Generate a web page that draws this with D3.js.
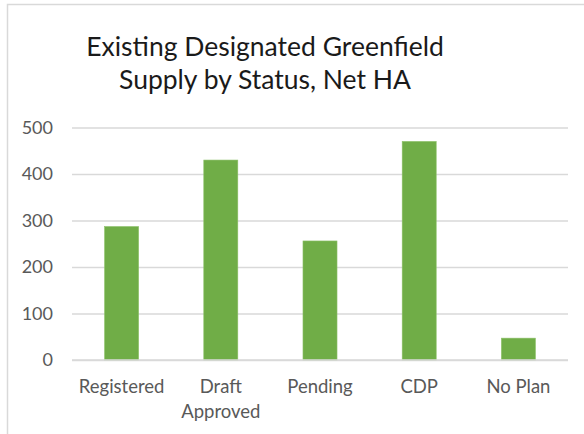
<!DOCTYPE html>
<html><head><meta charset="utf-8">
<script src="https://cdn.jsdelivr.net/npm/d3@7"></script>
<style>body{margin:0;background:#fff}svg{display:block}</style>
</head><body><svg id="c" width="584" height="434"></svg>
<script>
const categories = [["Registered"], ["Draft", "Approved"], ["Pending"], ["CDP"], ["No Plan"]];
const values = [287, 430, 256, 470, 47];
const yTicks = [0, 100, 200, 300, 400, 500];
const titleLines = ["Existing Designated Greenfield", "Supply by Status, Net HA"];

(function () {
const svg = d3.select("#c");
const font = "Lato, 'Open Sans', sans-serif";
// chart area border
svg.append("rect").attr("x", 7.5).attr("y", 4.5).attr("width", 600).attr("height", 460)
  .attr("fill", "#fff").attr("stroke", "#d9d9d9").attr("stroke-width", 1.5);

const pl = 72, pr = 568, pt = 127.5, pb = 360;
const names = categories.map(d => d.join(" "));
const x = d3.scaleBand().domain(names).range([pl, pr]).paddingInner(0.657).paddingOuter(0.3285);
const y = d3.scaleLinear().domain([0, 500]).range([pb, pt]);

// gridlines
const yAxis = d3.axisLeft(y).tickValues(yTicks).tickSize(-(pr - pl)).tickPadding(19);
const gy = svg.append("g").attr("transform", `translate(${pl},0)`).call(yAxis);
gy.select(".domain").remove();
gy.selectAll(".tick line").attr("stroke", "#d9d9d9").attr("stroke-width", 1.3);
gy.selectAll(".tick text").attr("fill", "#595959").style("font-family", font).style("font-size", "18px");

// bars
svg.append("g").selectAll("rect").data(values).join("rect")
  .attr("x", (d, i) => x(names[i])).attr("width", x.bandwidth())
  .attr("y", d => y(d)).attr("height", d => y(0) - y(d))
  .attr("fill", "#70ad47").attr("stroke", "#8cc068").attr("stroke-width", 0.6);

// x axis labels
const xAxis = d3.axisBottom(x).tickSize(0).tickFormat(() => "");
const gx = svg.append("g").attr("transform", `translate(0,${pb})`).call(xAxis);
gx.select(".domain").remove();
gx.selectAll(".tick").each(function(d, i) {
  const t = d3.select(this).append("text").attr("fill", "#595959")
    .style("font-family", font).style("font-size", "18.5px").attr("text-anchor", "middle");
  categories[i].forEach((line, j) => t.append("tspan").attr("x", 0).attr("y", 33 + j * 25).text(line));
});
// baseline gridline on top of bars
svg.append("line").attr("x1", pl).attr("x2", pr).attr("y1", y(0)).attr("y2", y(0))
  .attr("stroke", "#d9d9d9").attr("stroke-width", 1.3);

// title
const title = svg.append("text").attr("text-anchor", "middle").attr("fill", "#1a1a1a")
  .style("font-family", font).style("font-size", "26.5px");
titleLines.forEach((l, i) => title.append("tspan").attr("x", 265).attr("y", 56 + i * 33).text(l));
})();
</script></body></html>
